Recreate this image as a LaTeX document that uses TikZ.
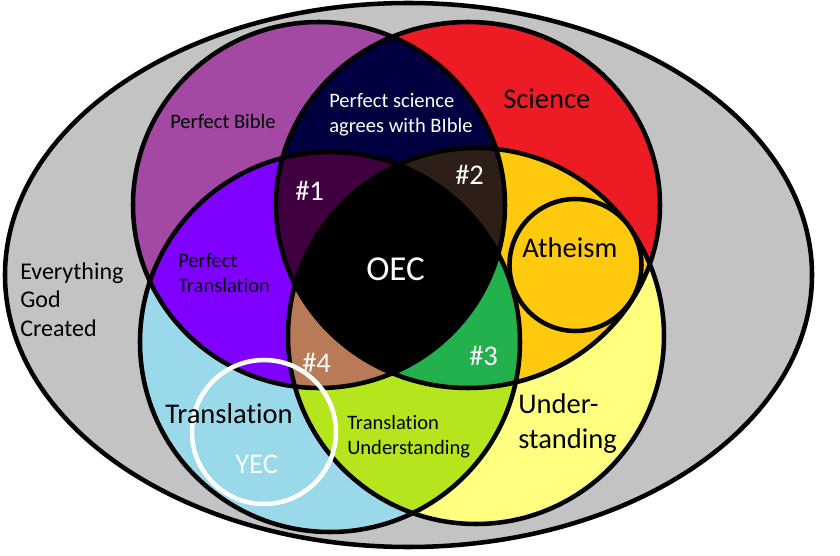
\documentclass[tikz,border=0pt]{standalone}
\usepackage{fontspec}
\setmainfont{Carlito}[Ligatures=NoCommon]
\definecolor{bggray}{HTML}{C3C3C3}
\definecolor{biblepurple}{HTML}{A349A4}
\definecolor{sciencered}{HTML}{ED1C24}
\definecolor{transblue}{HTML}{99D9EA}
\definecolor{underyellow}{HTML}{FFFF80}
\definecolor{agreenavy}{HTML}{000040}
\definecolor{perfviolet}{HTML}{8000FF}
\definecolor{atheamber}{HTML}{FFC90E}
\definecolor{translime}{HTML}{B5E61D}
\definecolor{oneplum}{HTML}{400040}
\definecolor{twobrown}{HTML}{2D1E17}
\definecolor{threegreen}{HTML}{22B14C}
\definecolor{fourtan}{HTML}{B97A57}
\newcommand\fsmall{\fontsize{15.4}{18.75}\selectfont}
\newcommand\fmid{\fontsize{18}{21.75}\selectfont}
\newcommand\fbig{\fontsize{21.4}{26.25}\selectfont}
\newcommand\fhuge{\fontsize{26.25}{30}\selectfont}
% the four sets
\newcommand\setTL{(319,205) ellipse [x radius=186,y radius=183]}
\newcommand\setTR{(468,205) ellipse [x radius=192,y radius=183]}
\newcommand\setBL{(330,342) circle [radius=190]}
\newcommand\setBR{(476,336) circle [radius=188]}
\tikzset{
  rim/.style={draw=black,line width=3.4pt},
  lbl/.style={inner sep=0pt,anchor=base west,align=left},
}
\begin{document}
\begin{tikzpicture}[x=0.75pt,y=-0.75pt]
\useasboundingbox (0,0) rectangle (840,556);
\filldraw[fill=bggray,rim] (408.5,275) ellipse [x radius=403.5,y radius=272];
% one set
\fill[biblepurple] \setTL;
\fill[sciencered] \setTR;
\fill[transblue] \setBL;
\fill[underyellow] \setBR;
% two sets
\begin{scope} \clip \setTL; \fill[agreenavy] \setTR; \end{scope}
\begin{scope} \clip \setTL; \fill[perfviolet] \setBL; \end{scope}
\begin{scope} \clip \setTR; \fill[atheamber] \setBR; \end{scope}
\begin{scope} \clip \setBL; \fill[translime] \setBR; \end{scope}
% three sets
\begin{scope} \clip \setTL; \clip \setTR; \fill[oneplum] \setBL; \end{scope}
\begin{scope} \clip \setTL; \clip \setTR; \fill[twobrown] \setBR; \end{scope}
\begin{scope} \clip \setTR; \clip \setBL; \fill[threegreen] \setBR; \end{scope}
\begin{scope} \clip \setTL; \clip \setBL; \fill[fourtan] \setBR; \end{scope}
% all four
\begin{scope} \clip \setTL; \clip \setTR; \clip \setBL; \fill[black] \setBR; \end{scope}
\draw[rim] \setTL;
\draw[rim] \setTR;
\draw[rim] \setBL;
\draw[rim] \setBR;
\filldraw[fill=atheamber,rim] (575.5,265) circle [radius=66];
\draw[white,line width=3.4pt] (264,432) circle [radius=72];

% multi-line labels sit on the baseline of their last line
\node[lbl,font=\fsmall] (bible) at (170,129) {Perfect Bible};
\node[lbl,font=\fsmall,text=white] (agree) at (329,133) {Perfect science\\agrees with BIble};
\node[lbl,font=\fbig] (science) at (503,109) {Science};
\node[lbl,font=\fbig,text=white] (one) at (295,201) {\#1};
\node[lbl,font=\fbig,text=white] (two) at (455,185) {\#2};
\node[lbl,font=\fhuge,text=white] (oec) at (366,281) {OEC};
\node[lbl,font=\fbig] (atheism) at (522,258) {Atheism};
\node[lbl,font=\fsmall] (perftrans) at (178,293) {Perfect\\Translation};
\node[lbl,font=\fmid] (everything) at (20,337) {Everything\\God\\Created};
\node[lbl,font=\fbig,text=white] (three) at (469,365) {\#3};
\node[lbl,font=\fbig,text=white] (four) at (302,373) {\#4};
\node[lbl,font=\fbig] (trans) at (165,423) {Translation};
\node[lbl,font=\fsmall] (transunder) at (347,454) {Translation\\Understanding};
\node[lbl,font=\fbig] (under) at (518,448) {Under-\\standing};
\node[lbl,font=\fbig,text=white] (yec) at (235,473) {YEC};
\end{tikzpicture}
\end{document}
